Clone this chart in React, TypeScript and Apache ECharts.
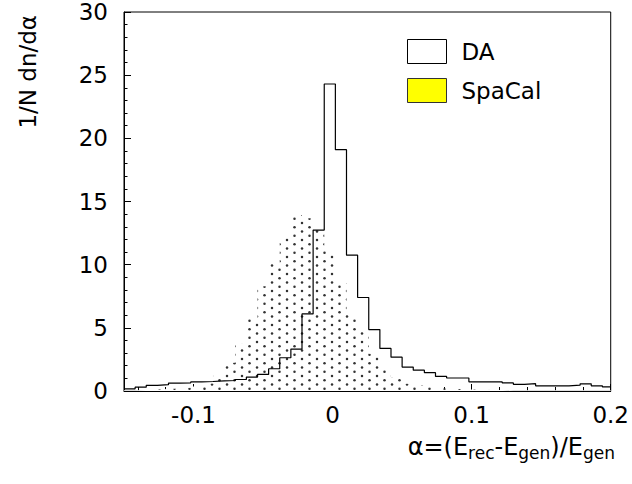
import React, { useEffect, useRef } from 'react';
import * as echarts from 'echarts';

// Histogram binning (bin edges start at -0.15, width 0.008)
const BIN_START = -0.15;
const BIN_WIDTH = 0.008;
const X_MIN = -0.15;
const X_MAX = 0.2;

// 1/N dn/dα per bin, DA (outline histogram)
const daValues = [
  0.17, 0.3, 0.45, 0.5, 0.63, 0.65, 0.72, 0.75, 0.8, 0.83,
  0.91, 1.1, 1.31, 1.76, 2.63, 3.32, 6.1, 12.74, 24.3, 19.1,
  10.75, 7.4, 4.86, 3.37, 2.68, 1.89, 1.65, 1.45, 1.15, 1.03,
  1.03, 0.73, 0.72, 0.72, 0.64, 0.53, 0.58, 0.41, 0.41, 0.41,
  0.46, 0.57, 0.41, 0.33,
];

// 1/N dn/dα per bin, SpaCal (dotted filled histogram)
const spaCalValues = [
  0.05, 0.08, 0.12, 0.15, 0.2, 0.25, 0.35, 0.6, 1.36, 2.24,
  3.74, 5.7, 8.3, 10.1, 12.15, 13.93, 13.67, 12.87, 11.15, 8.53,
  6.03, 4.67, 2.95, 1.8, 1.1, 0.57, 0.44, 0.3, 0.2, 0.15,
  0.12, 0.1, 0.08, 0.08, 0.06, 0.06, 0.05, 0.05, 0.05, 0.05,
  0.05, 0.05, 0.05, 0.05,
];

const seriesNames = ['DA', 'SpaCal'];
const xLabelValues = [-0.1, 0, 0.1, 0.2];
const xMinorTickValues = [
  -0.14, -0.12, -0.1, -0.08, -0.06, -0.04, -0.02, 0, 0.02, 0.04, 0.06, 0.08,
  0.1, 0.12, 0.14, 0.16, 0.18, 0.2,
];
const Y_MIN = 0;
const Y_MAX = 30;
const Y_INTERVAL = 5;

const FONT = '"DejaVu Sans", Verdana, sans-serif';
const FS = 23;

function stepData(values: number[]): number[][] {
  const pts = values.map((v, k) => [BIN_START + k * BIN_WIDTH, v]);
  pts.push([X_MAX, values[values.length - 1]]);
  return pts;
}

function makeDotPattern(): string {
  const c = document.createElement('canvas');
  c.width = 15;
  c.height = 17;
  const ctx = c.getContext('2d')!;
  ctx.fillStyle = '#ffffff';
  ctx.fillRect(0, 0, 15, 17);
  ctx.fillStyle = '#333333';
  const pts = [
    [2, 2],
    [9.5, 6.25],
    [2, 10.5],
    [9.5, 14.75],
  ];
  for (const [x, y] of pts) {
    ctx.beginPath();
    ctx.arc(x, y, 1.25, 0, Math.PI * 2);
    ctx.fill();
  }
  return c.toDataURL();
}

export default function App() {
  const ref = useRef<HTMLDivElement>(null);

  useEffect(() => {
    if (!ref.current) return;
    const chart = echarts.init(ref.current, undefined, { renderer: 'svg' });
    const pattern = makeDotPattern();

    const option: any = {
      animation: false,
      backgroundColor: '#ffffff',
      grid: {
        left: 124,
        right: 18,
        top: 12,
        bottom: 93,
        show: true,
        borderColor: '#000',
        borderWidth: 1,
        backgroundColor: 'transparent',
      },
      legend: {
        orient: 'vertical',
        left: 407,
        top: 39,
        padding: 0,
        itemWidth: 39,
        itemHeight: 24,
        itemGap: 14,
        selectedMode: false,
        textStyle: {
          fontFamily: FONT,
          fontSize: FS,
          color: '#000',
          padding: [0, 0, 0, 10],
        },
        data: [
          {
            name: seriesNames[0],
            icon: 'rect',
            itemStyle: { color: '#ffffff', borderColor: '#000', borderWidth: 1 },
          },
          {
            name: seriesNames[1],
            icon: 'rect',
            itemStyle: { color: '#ffff00', borderColor: '#333', borderWidth: 1 },
          },
        ],
      },
      xAxis: [
        {
          type: 'value',
          min: X_MIN,
          max: X_MAX,
          position: 'bottom',
          splitLine: { show: false },
          axisLine: { show: true, onZero: false, lineStyle: { color: '#000', width: 1 } },
          axisTick: {
            show: true,
            inside: true,
            length: 4,
            customValues: xMinorTickValues,
            lineStyle: { color: '#000' },
          },
          axisLabel: {
            customValues: xLabelValues,
            margin: 12,
            fontFamily: FONT,
            fontSize: FS,
            color: '#000',
            formatter: (v: number) => (Math.abs(v) < 1e-9 ? '0' : String(v)),
          },
        },
        {
          type: 'value',
          min: X_MIN,
          max: X_MAX,
          position: 'bottom',
          splitLine: { show: false },
          axisLine: { show: false, onZero: false },
          axisTick: {
            show: true,
            inside: true,
            length: 7,
            customValues: xLabelValues,
            lineStyle: { color: '#000' },
          },
          axisLabel: { show: false },
        },
      ],
      yAxis: {
        type: 'value',
        min: Y_MIN,
        max: Y_MAX,
        interval: Y_INTERVAL,
        splitLine: { show: false },
        axisLine: { show: true, onZero: false, lineStyle: { color: '#000', width: 1 } },
        axisTick: { show: true, inside: true, length: 7, lineStyle: { color: '#000' } },
        minorTick: { show: true, splitNumber: 5, length: 3.5, lineStyle: { color: '#000' } },
        minorSplitLine: { show: false },
        axisLabel: {
          margin: 16,
          fontFamily: FONT,
          fontSize: FS,
          color: '#000',
        },
      },
      series: [
        {
          name: seriesNames[1],
          type: 'line',
          step: 'end',
          xAxisIndex: 0,
          data: stepData(spaCalValues),
          symbol: 'none',
          silent: true,
          itemStyle: { color: '#ffff00' },
          lineStyle: { width: 0, opacity: 0 },
          areaStyle: {
            opacity: 1,
            color: { image: pattern, repeat: 'repeat', imageWidth: 15, imageHeight: 17 },
          },
          z: 1,
        },
        {
          name: seriesNames[0],
          type: 'line',
          step: 'end',
          xAxisIndex: 0,
          data: stepData(daValues),
          symbol: 'none',
          silent: true,
          itemStyle: { color: '#000' },
          lineStyle: { color: '#000', width: 1.2 },
          z: 2,
        },
      ],
      graphic: [
        {
          type: 'text',
          x: 28,
          y: 15,
          rotation: Math.PI / 2,
          style: {
            text: '1/N dn/dα',
            align: 'right',
            verticalAlign: 'middle',
            fontFamily: FONT,
            fontSize: FS,
            fill: '#000',
          },
        },
        {
          type: 'text',
          right: 17,
          top: 435,
          style: {
            text: '{m|α=(E}{s|rec}{m|-E}{s|gen}{m|)/E}{s|gen}',
            fill: '#000',
            rich: {
              m: { fontFamily: FONT, fontSize: 24, lineHeight: 28, fill: '#000' },
              s: {
                fontFamily: FONT,
                fontSize: 17,
                lineHeight: 17,
                verticalAlign: 'bottom',
                fill: '#000',
              },
            },
          },
        },
      ],
    };

    chart.setOption(option);
    return () => chart.dispose();
  }, []);

  return (
    <div
      ref={ref}
      style={{ position: 'fixed', left: 0, top: 0, width: 632, height: 484, background: '#fff' }}
    />
  );
}
